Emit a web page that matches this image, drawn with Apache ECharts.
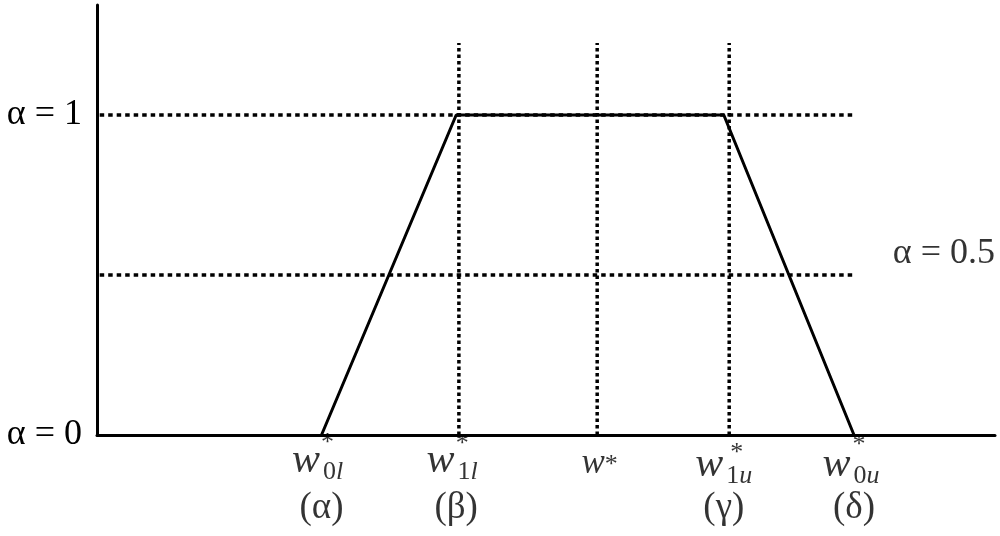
<!DOCTYPE html>
<html>
<head>
<meta charset="utf-8">
<script src="https://cdn.jsdelivr.net/npm/echarts@6/dist/echarts.min.js"></script>
<style>html,body{margin:0;padding:0;background:#fff;}#c{width:1000px;height:536px;}</style>
</head>
<body>
<div id="c"></div>
<script>
// ---- data ----
const trapezoidX = [2.5, 4.0, 6.98, 8.43];
const trapezoidY = [0, 1, 1, 0];
const vGuideX = [4.03, 5.57, 7.04];
const vGuideTop = 1.225;
const hGuideY = [1, 0.5];
const hGuideRange = [0.03, 8.45];
const pointX = [2.5, 4.0, 5.57, 6.98, 8.43];
const pointBase = ['w', 'w', 'w', 'w', 'w'];
const pointSubNum = ['0', '1', '', '1', '0'];
const pointSubIt = ['l', 'l', '', 'u', 'u'];
const greekX = [2.5, 4.0, 6.98, 8.43];
const greekLabels = ['(α)', '(β)', '(γ)', '(δ)'];
const yTickValues = [0, 1];
const yTickLabels = ['0', '1'];
const alphaSymbol = 'α';
const midLabel = '0.5';
const midLabelY = 0.5;

// ---- chart ----
const serif = '"Liberation Serif", "Times New Roman", serif';
const chart = echarts.init(document.getElementById('c'), null, {renderer: 'canvas'});
const dotV = {color: '#000', width: 3.5, type: [3.5, 3]};
const dotH = {color: '#000', width: 3.5, type: [4.5, 4]};
const alphaRich = {
  a: {fontFamily: serif, fontSize: 36, color: '#000'},
  eq: {fontFamily: serif, fontSize: 36, color: '#000'},
  n: {fontFamily: serif, fontSize: 36, color: '#000'}
};
const alphaText = v => '{a|' + alphaSymbol + '}{eq| = }{n|' + v + '}';

const series = [];
hGuideY.forEach(y => {
  series.push({type: 'line', silent: true, symbol: 'none', z: 2,
    data: [[hGuideRange[0], y], [hGuideRange[1], y]], lineStyle: dotH});
});
series.push({type: 'line', silent: true, symbol: 'none', z: 2,
  data: [[hGuideRange[0], -0.007], [10, -0.007]], lineStyle: {color: '#000', width: 3, type: [4, 3]}});
vGuideX.forEach(x => {
  series.push({type: 'line', silent: true, symbol: 'none', z: 2,
    data: [[x, 0], [x, vGuideTop]], lineStyle: dotV});
});
series.push({type: 'line', silent: true, symbol: 'none', z: 5,
  data: trapezoidX.map((x, i) => [x, trapezoidY[i]]),
  lineStyle: {color: '#000', width: 3, type: 'solid'}});

// w labels
const wOffsets = [[-4, -2], [-4, -2], [-4, -1], [0, 2], [-3, 2]];
const starOffsets = [[6, 8], [6, 9], [14, 30], [13, 18], [5, 10]];
series.push({type: 'scatter', silent: true, symbolSize: 0, z: 10,
  data: pointX.map((x, i) => ({
    value: [x, 0],
    label: {
      show: true, position: 'bottom', distance: 4, offset: wOffsets[i],
      formatter: pointSubNum[i] === '' ? '{ws|' + pointBase[i] + '}'
        : '{w|' + pointBase[i] + '}{sn|' + pointSubNum[i] + '}{si|' + pointSubIt[i] + '}'
    }
  })),
  label: {
    color: '#000',
    rich: {
      w: {fontFamily: serif, fontStyle: 'italic', fontSize: 42, color: '#000'},
      ws: {fontFamily: serif, fontStyle: 'italic', fontSize: 35, color: '#000', padding: [8, 0, 0, 0]},
      sn: {fontFamily: serif, fontSize: 26, color: '#000', padding: [22, 0, 0, 3]},
      si: {fontFamily: serif, fontStyle: 'italic', fontSize: 26, color: '#000', padding: [22, 0, 0, 0]}
    }
  }
});
// asterisks
series.push({type: 'scatter', silent: true, symbolSize: 0, z: 11,
  data: pointX.map((x, i) => ({
    value: [x, 0],
    label: {show: true, position: 'inside', offset: starOffsets[i], formatter: '*'}
  })),
  label: {fontFamily: serif, fontSize: 26, color: '#000'}
});
// greek labels
series.push({type: 'scatter', silent: true, symbolSize: 0, z: 10,
  data: greekX.map((x, i) => ({value: [x, 0], name: greekLabels[i]})),
  label: {show: true, position: 'bottom', distance: 55, formatter: p => p.name,
    fontFamily: serif, fontSize: 37, color: '#000'}
});
// mid label
series.push({type: 'scatter', silent: true, symbolSize: 0, z: 10,
  data: [{value: [10, midLabelY], name: midLabel}],
  label: {show: true, position: 'left', distance: 0, offset: [0, -21], formatter: p => alphaText(p.name),
    rich: alphaRich}
});

chart.setOption({
  animation: false,
  backgroundColor: '#fff',
  grid: {left: 97, right: 5, top: 5, bottom: 101, containLabel: false},
  xAxis: {type: 'value', min: 0, max: 10,
    axisLine: {show: true, onZero: false, lineStyle: {color: '#000', width: 3}},
    axisTick: {show: false}, axisLabel: {show: false}, splitLine: {show: false}},
  yAxis: {type: 'value', min: 0, max: 1.34375,
    axisLine: {show: true, onZero: false, lineStyle: {color: '#000', width: 3}},
    axisTick: {show: false}, splitLine: {show: false},
    axisLabel: {show: true, customValues: yTickValues, margin: 15,
      formatter: v => alphaText(yTickLabels[yTickValues.indexOf(v)]),
      rich: alphaRich}},
  series: series
});
</script>
</body>
</html>
